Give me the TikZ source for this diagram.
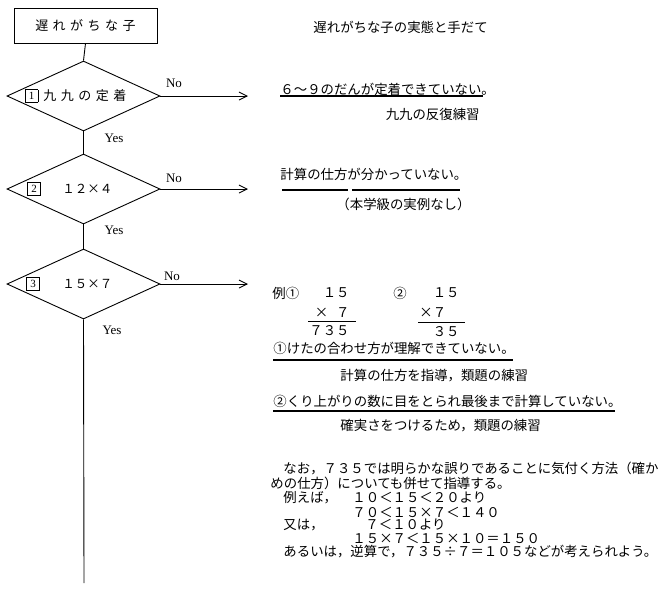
\documentclass[tikz,border=0pt]{standalone}
\usepackage{fontspec}
\setmainfont{Liberation Serif}
\newfontfamily\jp{Noto Sans CJK JP}
\usetikzlibrary{shapes.geometric,arrows.meta}
\newcommand\jsp{\hspace{4.5pt}}
\newcommand\nbx[1]{{\setlength\fboxsep{0pt}\setlength\fboxrule{0.6pt}\fbox{\makebox[12pt]{\rule[-2.5pt]{0pt}{12pt}\fontsize{11}{11}\selectfont #1}}}}
\begin{document}
\begin{tikzpicture}[x=1pt,y=-1pt,
  every path/.style={line width=0.9pt},
  jt/.style={font=\jp\fontsize{13.4}{13.4}\selectfont, inner sep=0pt, anchor=west},
  jte/.style={jt, anchor=east},
  dia/.style={diamond, draw, minimum width=153pt, minimum height=70pt, inner sep=0pt},
  startbox/.style={draw, minimum width=143pt, minimum height=35pt, inner sep=0pt, font=\jp\fontsize{13}{13}\selectfont},
  yn/.style={font=\fontsize{13}{13}\selectfont, inner sep=0pt},
  nolink/.style={-{Straight Barb[length=8pt,width=8pt]}},
  uline/.style={line width=1.4pt},
  numbox/.style={inner sep=0pt}
]
\useasboundingbox (0,0) rectangle (664,590);

% ---- flowchart ----
\node[startbox] (start) at (85.5,25.5) {遅\jsp れ\jsp が\jsp ち\jsp な\jsp 子};
\node[dia] (d1) at (83.5,96) {};
\node[dia] (d2) at (83.5,189) {};
\node[dia] (d3) at (83.5,284) {};
\coordinate (end) at (84,583);

\node[numbox] (n1) at (31.5,96) {\nbx{1}};
\node[jt, font=\jp\fontsize{13}{13}\selectfont] (l1) at (43,96) {九\jsp 九\jsp の\jsp 定\jsp 着};
\node[numbox] (n2) at (34,189) {\nbx{2}};
\node[jt, font=\jp\fontsize{12.5}{12.5}\selectfont] (l2) at (62,189) {１２×４};
\node[numbox] (n3) at (33,284) {\nbx{3}};
\node[jt, font=\jp\fontsize{12.5}{12.5}\selectfont] (l3) at (62,284) {１５×７};

\draw (start.south) -- (d1.north);
\draw (d1.south) -- (d2.north);
\draw (d2.south) -- (d3.north);
\draw (d3.south) -- (end);

\coordinate (a1) at (248,96);
\coordinate (a2) at (248,189);
\coordinate (a3) at (248,284);
\draw[nolink] (d1.east) -- (a1);
\draw[nolink] (d2.east) -- (a2);
\draw[nolink] (d3.east) -- (a3);

\node[yn] (no1) at (174,83) {No};
\node[yn] (no2) at (174,178) {No};
\node[yn] (no3) at (172,276) {No};
\node[yn] (yes1) at (114,138) {Yes};
\node[yn] (yes2) at (114,230) {Yes};
\node[yn] (yes3) at (112,330) {Yes};

% ---- right side ----
\node[jt] (title) at (313,27) {遅れがちな子の実態と手だて};

\node[jt] (t1) at (280,89) {６～９のだんが定着できていない。};
\draw[uline] (280,96) -- (483,96);
\node[jte] (s1) at (480,114) {九九の反復練習};

\node[jt] (t2) at (280,174) {計算の仕方が分かっていない。};
\draw[uline] (282,190) -- (348,190);
\draw[uline] (352,190) -- (460,190);
\node[jt] (s2) at (336,204) {（本学級の実例なし）};

\node[jt] (ex1) at (272,293) {例①};
\node[jte] (ex1a) at (350,293) {１５};
\node[jte] (ex1b) at (350,313) {×\hspace{8pt}７};
\draw (308,321) -- (356,321);
\node[jte] (ex1c) at (350,331) {７３５};
\node[jt] (ex2) at (393,293) {②};
\node[jte] (ex2a) at (460,293) {１５};
\node[jt] (ex2b) at (419,313) {×７};
\draw (418,322) -- (465,322);
\node[jte] (ex2c) at (460,332) {３５};

\node[jt] (c1) at (273,348) {①けたの合わせ方が理解できていない。};
\draw[uline] (273,360) -- (513,360);
\node[jt] (r1) at (340,376) {計算の仕方を指導，類題の練習};
\node[jt] (c2) at (273,401) {②くり上がりの数に目をとられ最後まで計算していない。};
\draw[uline] (273,411) -- (615,411);
\node[jt] (r2) at (340,426) {確実さをつけるため，類題の練習};

\node[jt] (p1) at (283,468) {なお，７３５では明らかな誤りであることに気付く方法（確か};
\node[jt] (p2) at (270,483) {めの仕方）についても併せて指導する。};
\node[jt] (p3) at (283,498) {例えば，};
\node[jt] (p3b) at (352,498) {１０＜１５＜２０より};
\node[jt] (p4) at (352,512) {７０＜１５×７＜１４０};
\node[jt] (p5) at (283,525) {又は，};
\node[jt] (p5b) at (365,525) {７＜１０より};
\node[jt] (p6) at (352,538) {１５×７＜１５×１０＝１５０};
\node[jt] (p7) at (283,552) {あるいは，逆算で，７３５÷７＝１０５などが考えられよう。};
\end{tikzpicture}
\end{document}
